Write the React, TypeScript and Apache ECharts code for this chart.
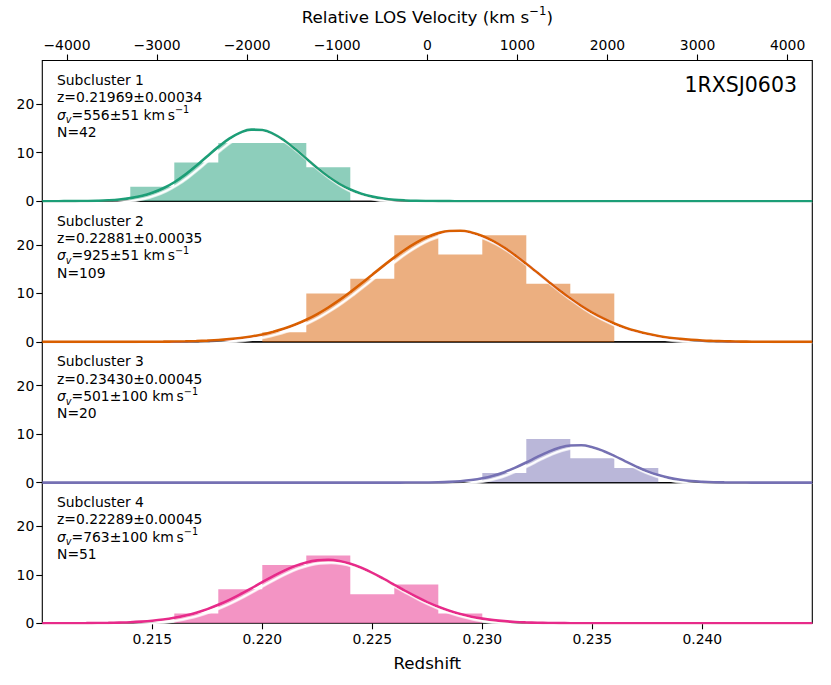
import { useEffect, useRef } from "react";
import * as echarts from "echarts";

// ---- axis ticks ----
const zTicks = [0.215, 0.22, 0.225, 0.23, 0.235, 0.24];
const velTicks = [-4000, -3000, -2000, -1000, 0, 1000, 2000, 3000, 4000];
const countTicks = [0, 10, 20];
const zMin = 0.21;
const zMax = 0.245;
const countMax = 29;
const zCluster = 0.2275;
const lightSpeed = 299792.458;

// ---- subcluster annotations ----
const subNames = ["Subcluster 1", "Subcluster 2", "Subcluster 3", "Subcluster 4"];
const zMeanText = ["0.21969", "0.22881", "0.23430", "0.22289"];
const zErrText = ["0.00034", "0.00035", "0.00045", "0.00045"];
const sigmaV = [556, 925, 501, 763];
const sigmaErr = [51, 51, 100, 100];
const nGal = [42, 109, 20, 51];
const colors = ["#1b9e77", "#d95f02", "#7570b3", "#e7298a"];

// ---- histograms (bin width 0.002 in z) ----
const binWidth = 0.002;
const binStart = [0.214, 0.22, 0.23, 0.216];
const hist1 = [3, 8, 12, 12, 7];
const hist2 = [2, 10, 13, 22, 18, 22, 12, 10];
const hist3 = [2, 9, 5, 3];
const hist4 = [2, 7, 12, 14, 6, 8, 2];

// ---- fitted gaussian curves, read at z = 0.2100, 0.2105, ... 0.2450 ----
const curveStart = 0.21;
const curveStep = 0.0005;
const curve1 = [
  0, 0, 0.01, 0.02, 0.05, 0.1, 0.19, 0.35, 0.63, 1.07, 1.73, 2.66, 3.91, 5.48, 7.3, 9.27, 11.2, 12.9, 14.14, 14.76,
  14.67, 13.89, 12.52, 10.75, 8.79, 6.85, 5.08, 3.58, 2.41, 1.54, 0.94, 0.55, 0.3, 0.16, 0.08, 0.04, 0.02, 0.01,
  0, 0, 0, 0, 0, 0, 0, 0, 0, 0, 0, 0, 0, 0, 0, 0, 0, 0, 0, 0, 0, 0, 0, 0, 0, 0, 0, 0, 0, 0, 0, 0, 0,
];
const curve2 = [
  0, 0, 0, 0, 0, 0, 0, 0.01, 0.01, 0.02, 0.03, 0.05, 0.08, 0.12, 0.18, 0.27, 0.39, 0.57, 0.81, 1.13,
  1.54, 2.08, 2.75, 3.58, 4.57, 5.74, 7.09, 8.6, 10.26, 12.02, 13.85, 15.67, 17.43, 19.05, 20.47, 21.61, 22.42, 22.86,
  22.91, 22.56, 21.84, 20.77, 19.42, 17.84, 16.1, 14.29, 12.46, 10.67, 8.99, 7.44, 6.05, 4.84, 3.8, 2.93, 2.23, 1.66,
  1.22, 0.87, 0.62, 0.43, 0.29, 0.2, 0.13, 0.08, 0.05, 0.03, 0.02, 0.01, 0.01, 0, 0,
];
const curve3 = [
  0, 0, 0, 0, 0, 0, 0, 0, 0, 0, 0, 0, 0, 0, 0, 0, 0, 0, 0, 0, 0, 0, 0, 0, 0, 0, 0, 0, 0, 0, 0, 0,
  0, 0.01, 0.01, 0.03, 0.07, 0.15, 0.29, 0.52, 0.88, 1.42, 2.15, 3.08, 4.15, 5.29, 6.34, 7.18, 7.66, 7.7,
  7.3, 6.53, 5.51, 4.38, 3.29, 2.32, 1.55, 0.97, 0.58, 0.32, 0.17, 0.08, 0.04, 0.02, 0.01, 0, 0, 0, 0, 0, 0,
];
const curve4 = [
  0, 0, 0.01, 0.02, 0.03, 0.05, 0.08, 0.14, 0.22, 0.35, 0.53, 0.78, 1.13, 1.59, 2.18, 2.92, 3.81, 4.84, 5.99, 7.22,
  8.5, 9.74, 10.87, 11.83, 12.55, 12.97, 13.07, 12.83, 12.27, 11.44, 10.39, 9.2, 7.94, 6.67, 5.47, 4.37, 3.4, 2.58,
  1.9, 1.37, 0.96, 0.66, 0.44, 0.28, 0.18, 0.11, 0.07, 0.04, 0.02, 0.01, 0.01, 0,
  0, 0, 0, 0, 0, 0, 0, 0, 0, 0, 0, 0, 0, 0, 0, 0, 0, 0, 0,
];

const hists = [hist1, hist2, hist3, hist4];
const curves = [curve1, curve2, curve3, curve4];
const clusterLabel = "1RXSJ0603";

const FONT = "DejaVu Sans";

function histPoints(start: number, counts: number[]) {
  const pts: number[][] = [[start, 0]];
  counts.forEach((c, k) => {
    const lo = +(start + k * binWidth).toFixed(4);
    const hi = +(lo + binWidth).toFixed(4);
    pts.push([lo, c], [hi, c]);
  });
  pts.push([+(start + counts.length * binWidth).toFixed(4), 0]);
  return pts;
}

function fmtVel(v: number) {
  return v < 0 ? "\u2212" + Math.abs(v) : String(v);
}

export default function App() {
  const ref = useRef<HTMLDivElement>(null);
  useEffect(() => {
    if (!ref.current) return;
    const chart = echarts.init(ref.current, undefined, { renderer: "svg" });
    const gridLeft = 42.3;
    const gridWidth = 770;
    const gridTop = 60.5;
    const panelH = 140.7;
    const idx = [0, 1, 2, 3];
    const vMin = (lightSpeed * (zMin - zCluster)) / (1 + zCluster);
    const vMax = (lightSpeed * (zMax - zCluster)) / (1 + zCluster);
    const tickStyle = { color: "#000", width: 1.1 };
    const labelStyle = { color: "#000", fontSize: 13.9, fontFamily: FONT };

    const xAxes: any[] = idx.map((i) => ({
      type: "value",
      gridIndex: i,
      min: zMin,
      max: zMax,
      position: "bottom",
      axisLine: { show: false, onZero: false },
      splitLine: { show: false },
      axisTick: { show: i === 3, customValues: zTicks, length: 6, lineStyle: tickStyle },
      axisLabel: {
        show: i === 3,
        customValues: zTicks,
        formatter: (v: number) => v.toFixed(3),
        margin: 9,
        ...labelStyle,
      },
      name: i === 3 ? "Redshift" : "",
      nameLocation: "middle",
      nameGap: 31,
      nameTextStyle: { color: "#000", fontSize: 16.7, fontFamily: FONT },
    }));
    xAxes.push({
      type: "value",
      gridIndex: 0,
      min: vMin,
      max: vMax,
      position: "top",
      axisLine: { show: false, onZero: false },
      splitLine: { show: false },
      axisTick: { show: true, customValues: velTicks, length: 6, lineStyle: tickStyle },
      axisLabel: { customValues: velTicks, formatter: fmtVel, margin: 9, ...labelStyle },
      name: "Relative LOS Velocity (km s{p|\u22121})",
      nameLocation: "middle",
      nameGap: 32,
      nameTextStyle: {
        color: "#000",
        fontSize: 16.7,
        fontFamily: FONT,
        lineHeight: 24,
        rich: { p: { fontSize: 11.7, fontFamily: FONT, color: "#000", verticalAlign: "top", lineHeight: 14 } },
      },
    });

    const yAxes = idx.map((i) => ({
      type: "value",
      gridIndex: i,
      min: 0,
      max: countMax,
      position: "left",
      axisLine: { show: false, onZero: false },
      splitLine: { show: false },
      axisTick: { show: true, customValues: countTicks, length: 6, lineStyle: tickStyle },
      axisLabel: { customValues: countTicks, margin: 8, ...labelStyle },
    }));

    const series: any[] = [];
    idx.forEach((i) => {
      series.push({
        type: "line",
        xAxisIndex: i,
        yAxisIndex: i,
        data: histPoints(binStart[i], hists[i]),
        symbol: "none",
        silent: true,
        lineStyle: { width: 0, opacity: 0 },
        areaStyle: { color: colors[i], opacity: 0.5 },
        z: 1,
      });
      series.push({
        type: "line",
        xAxisIndex: i,
        yAxisIndex: i,
        data: curves[i].map((v, k) => [+(curveStart + k * curveStep).toFixed(4), v]),
        smooth: 0.4,
        symbol: "none",
        silent: true,
        lineStyle: {
          color: colors[i],
          width: 2.6,
          shadowColor: "#ffffff",
          shadowBlur: 0,
          shadowOffsetX: 2.75,
          shadowOffsetY: 2.75,
        },
        z: 3,
      });
    });

    const textBase = { fill: "#000", fontSize: 13.9, fontFamily: FONT, align: "left", verticalAlign: "middle" };
    const elements: any[] = [];
    idx.forEach((i) => {
      const y0 = 80 + i * panelH;
      const step = 17.3;
      elements.push({ type: "text", x: 57, y: y0, z: 10, style: { ...textBase, text: subNames[i] } });
      elements.push({
        type: "text",
        x: 57,
        y: y0 + step,
        z: 10,
        style: { ...textBase, text: "z=" + zMeanText[i] + "\u00b1" + zErrText[i] },
      });
      elements.push({
        type: "text",
        x: 57,
        y: y0 + 2 * step,
        z: 10,
        style: {
          ...textBase,
          lineHeight: 20,
          text: "{s|\u03c3}{v|v}=" + sigmaV[i] + "\u00b1" + sigmaErr[i] + " km\u2009s{p|\u22121}",
          rich: {
            s: { fontSize: 13.9, fontFamily: FONT, fontStyle: "italic", fill: "#000", lineHeight: 20 },
            v: { fontSize: 9.7, fontFamily: FONT, fontStyle: "italic", fill: "#000", verticalAlign: "bottom", lineHeight: 14 },
            p: { fontSize: 9.7, fontFamily: FONT, fill: "#000", verticalAlign: "top", lineHeight: 11 },
          },
        },
      });
      elements.push({
        type: "text",
        x: 57,
        y: y0 + 3 * step,
        z: 10,
        style: { ...textBase, text: "N=" + nGal[i] },
      });
    });
    elements.push({
      type: "text",
      x: 797,
      y: 85,
      z: 10,
      style: { fill: "#000", fontSize: 20.5, fontFamily: FONT, align: "right", verticalAlign: "middle", text: clusterLabel },
    });

    chart.setOption({
      animation: false,
      backgroundColor: "#ffffff",
      textStyle: { fontFamily: FONT },
      grid: idx.map((i) => ({
        left: gridLeft,
        top: gridTop + i * panelH,
        width: gridWidth,
        height: panelH,
        show: true,
        borderColor: "#000",
        borderWidth: 1.1,
        backgroundColor: "transparent",
      })),
      xAxis: xAxes,
      yAxis: yAxes,
      series,
      graphic: { elements },
    });
    return () => chart.dispose();
  }, []);
  return <div ref={ref} style={{ position: "fixed", left: 0, top: 0, width: 831, height: 685 }} />;
}
